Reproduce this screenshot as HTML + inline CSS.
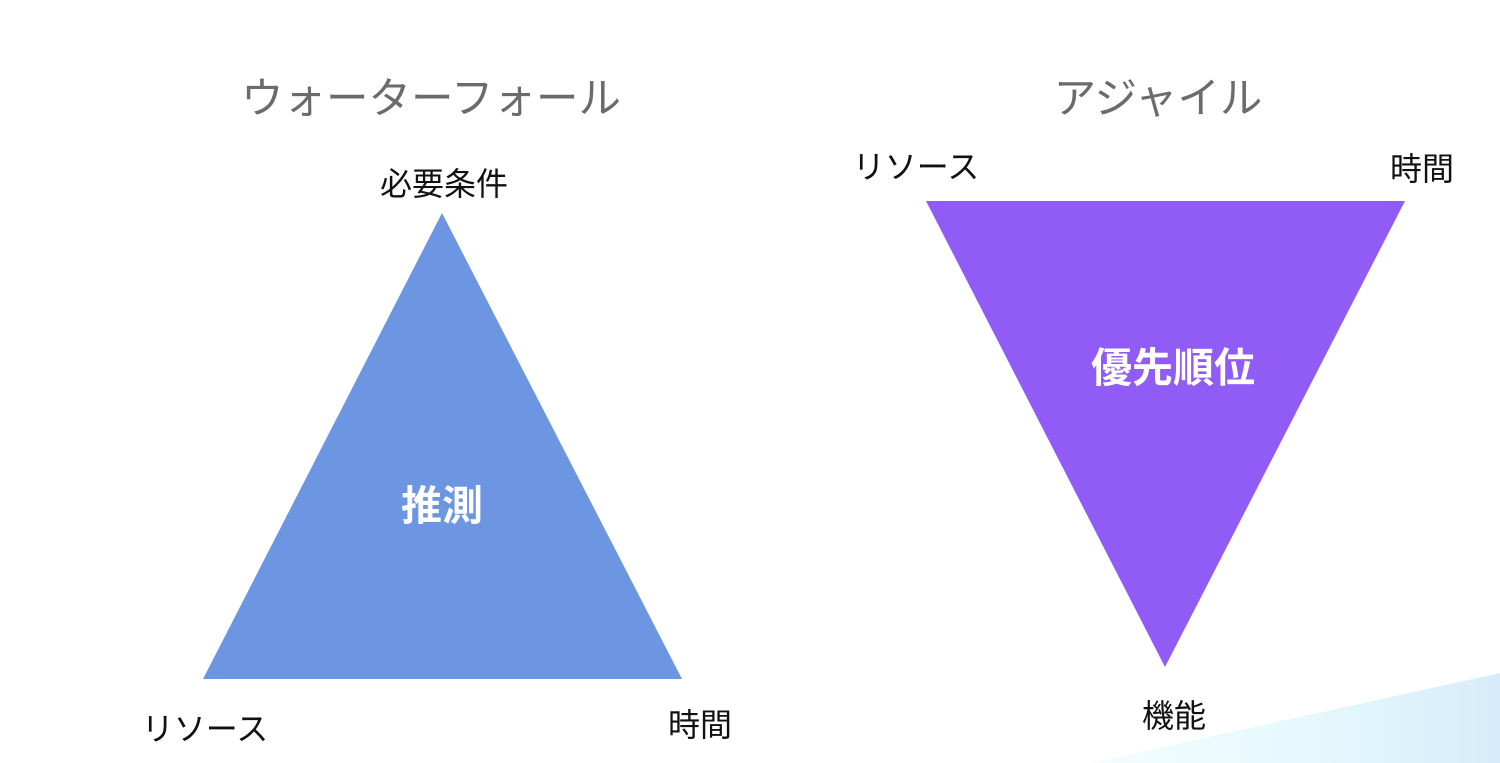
<!DOCTYPE html>
<html><head><meta charset="utf-8"><style>
body{margin:0;background:#fff}
svg{display:block}
text{font-family:"Liberation Sans","Noto Sans CJK JP",sans-serif}
</style></head><body>
<svg width="1500" height="763" viewBox="0 0 1500 763">
<defs><linearGradient id="g" x1="0" x2="1" y1="0" y2="0"><stop offset="0" stop-color="#f4fdfe"/><stop offset="0.5" stop-color="#e6f9fd"/><stop offset="1" stop-color="#d6ecfa"/></linearGradient></defs>
<polygon points="1090,763 1500,673 1500,763" fill="url(#g)"/>
<polygon points="442,213 682,679 203,679" fill="#6C96E2"/>
<polygon points="926,201 1405,201 1165,667" fill="#915CF5"/>
<g text-anchor="middle">
<text x="431" y="113" font-size="42.5" fill="#6b6b6b">ウォーターフォール</text>
<text x="1158" y="113" font-size="42.5" fill="#6b6b6b">アジャイル</text>
<text x="444" y="195" font-size="32" fill="#111">必要条件</text>
<text x="205" y="740" font-size="32" fill="#111">リソース</text>
<text x="700" y="736" font-size="32" fill="#111">時間</text>
<text x="442" y="520" font-size="41" font-weight="bold" fill="#fff">推測</text>
<text x="916" y="178" font-size="32" fill="#111">リソース</text>
<text x="1422" y="180" font-size="32" fill="#111">時間</text>
<text x="1174" y="727" font-size="32" fill="#111">機能</text>
<text x="1173" y="382" font-size="41" font-weight="bold" fill="#fff">優先順位</text>
</g>
</svg>
</body></html>
